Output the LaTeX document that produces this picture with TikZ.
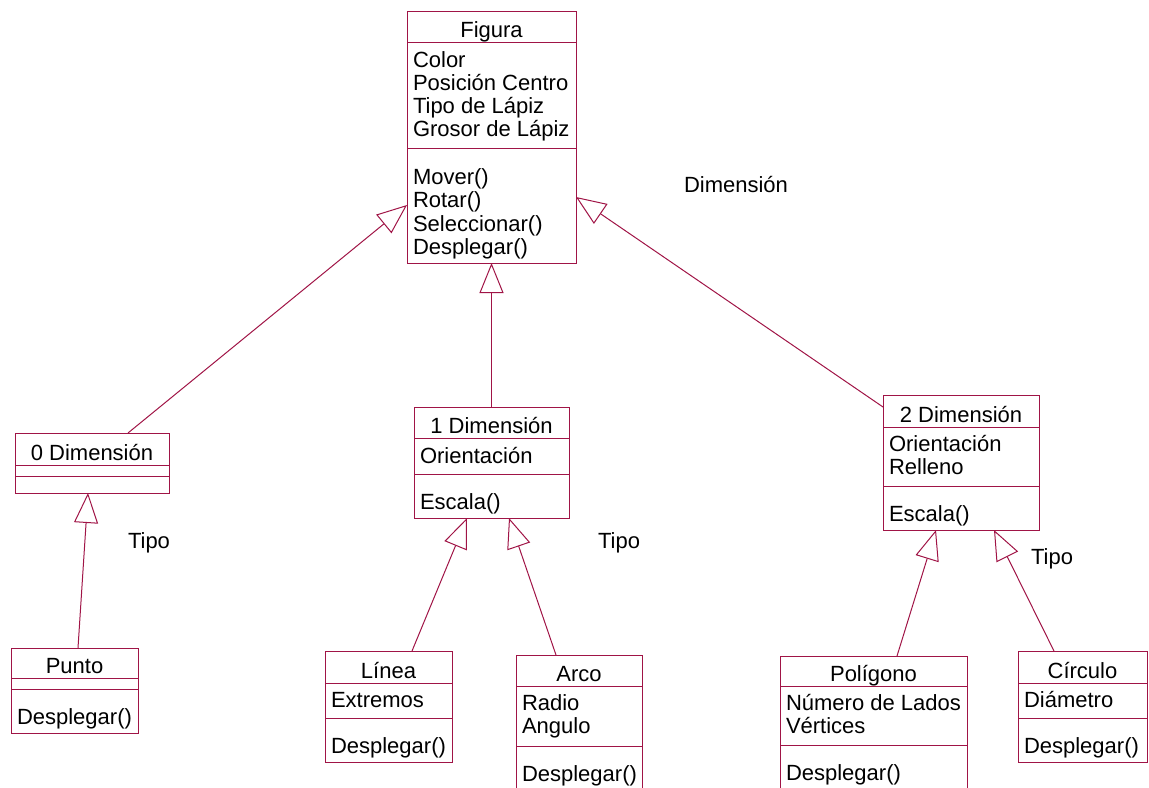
\documentclass[tikz,border=0pt]{standalone}
\usepackage{fontspec}
\setmainfont{Liberation Sans}
\usetikzlibrary{arrows.meta,calc}
\definecolor{umlc}{RGB}{160,20,70}
\tikzset{
  uml/.style={draw=umlc, line width=0.75pt},
  umlbox/.style={uml, rectangle, inner sep=0pt, outer sep=0pt},
  txt/.style={inner sep=0pt, outer sep=0pt, font=\fontsize{16.5pt}{17pt}\selectfont, text=black},
  gen/.style={uml, -{Triangle[open, length=22.5pt, width=18pt, line width=0.75pt]}},
}
% #1 name, #2 x1, #3 y1, #4 x2, #5 y2, #6 title line y, #7 separator y, #8 title
\newcommand\umlcls[8]{%
  \node[umlbox, anchor=north west, minimum width={(#4-#2)*0.75pt}, minimum height={(#5-#3)*0.75pt}] (#1) at (#2,#3) {};
  \draw[uml] (#1.west |- 0,#6) -- (#1.east |- 0,#6);
  \draw[uml] (#1.west |- 0,#7) -- (#1.east |- 0,#7);
  \node[txt, anchor=base] (#1-t) at ($(#1.north)+(0,#6-#3-5)$) {#8};
}
\newcommand\umltxt[4]{\node[txt, anchor=base west] (#1) at (#2,#3) {#4};}
\begin{document}
\begin{tikzpicture}[x=0.75pt,y=-0.75pt]
\useasboundingbox (0,0) rectangle (1149,788);
\clip (0,0) rectangle (1149,788);

% Figura
\umlcls{fig}{407}{12}{576}{263}{43}{149}{Figura}
\umltxt{fig-a1}{413}{68}{Color}
\umltxt{fig-a2}{413}{91}{Posición Centro}
\umltxt{fig-a3}{413}{114}{Tipo de Lápiz}
\umltxt{fig-a4}{413}{137}{Grosor de Lápiz}
\umltxt{fig-m1}{413}{185}{Mover()}
\umltxt{fig-m2}{413}{208}{Rotar()}
\umltxt{fig-m3}{413}{231}{Seleccionar()}
\umltxt{fig-m4}{413}{254}{Desplegar()}

% 0 Dimension
\umlcls{zdim}{15}{433}{169}{493}{465}{476}{0 Dimensión}

% 1 Dimension
\umlcls{odim}{414}{407}{569}{518}{438}{474}{1 Dimensión}
\umltxt{odim-a1}{420}{463}{Orientación}
\umltxt{odim-m1}{420}{509}{Escala()}

% 2 Dimension
\umlcls{tdim}{883}{395}{1039}{530}{427}{486}{2 Dimensión}
\umltxt{tdim-a1}{889}{451}{Orientación}
\umltxt{tdim-a2}{889}{474}{Relleno}
\umltxt{tdim-m1}{889}{521}{Escala()}

% Punto
\umlcls{punto}{11}{648}{138}{733}{678}{689}{Punto}
\umltxt{punto-m1}{17}{724}{Desplegar()}

% Linea
\umlcls{linea}{325}{651}{452}{762}{683}{718}{Línea}
\umltxt{linea-a1}{331}{707}{Extremos}
\umltxt{linea-m1}{331}{753}{Desplegar()}

% Arco
\umlcls{arco}{516}{655}{642}{800}{686}{746}{Arco}
\umltxt{arco-a1}{522}{710}{Radio}
\umltxt{arco-a2}{522}{733}{Angulo}
\umltxt{arco-m1}{522}{781}{Desplegar()}

% Poligono
\umlcls{poli}{780}{656}{967}{800}{686}{745}{Polígono}
\umltxt{poli-a1}{786}{710}{Número de Lados}
\umltxt{poli-a2}{786}{733}{Vértices}
\umltxt{poli-m1}{786}{780}{Desplegar()}

% Circulo
\umlcls{circ}{1018}{651}{1147}{762}{683}{718}{Círculo}
\umltxt{circ-a1}{1024}{707}{Diámetro}
\umltxt{circ-m1}{1024}{753}{Desplegar()}

% generalizations
\draw[gen] ($(zdim.north west)+(113,0)$) -- ($(fig.north west)+(0,193)$);
\draw[gen] (odim.north) -- (fig.south);
\draw[gen] ($(tdim.north west)+(0,12)$) -- ($(fig.north east)+(0,185)$);
\draw[gen] ($(punto.north west)+(67,0)$) -- ($(zdim.south west)+(73,0)$);
\draw[gen] ($(linea.north west)+(87,0)$) -- ($(odim.south west)+(53,0)$);
\draw[gen] ($(arco.north west)+(40,0)$) -- ($(odim.south west)+(95,0)$);
\draw[gen] ($(poli.north west)+(117,0)$) -- ($(tdim.south west)+(53,0)$);
\draw[gen] ($(circ.north west)+(36,0)$) -- ($(tdim.south west)+(111,0)$);

% labels
\umltxt{lab-dim}{684}{192}{Dimensión}
\umltxt{lab-tipo0}{128}{548}{Tipo}
\umltxt{lab-tipo1}{598}{548}{Tipo}
\umltxt{lab-tipo2}{1031}{564}{Tipo}
\end{tikzpicture}
\end{document}
